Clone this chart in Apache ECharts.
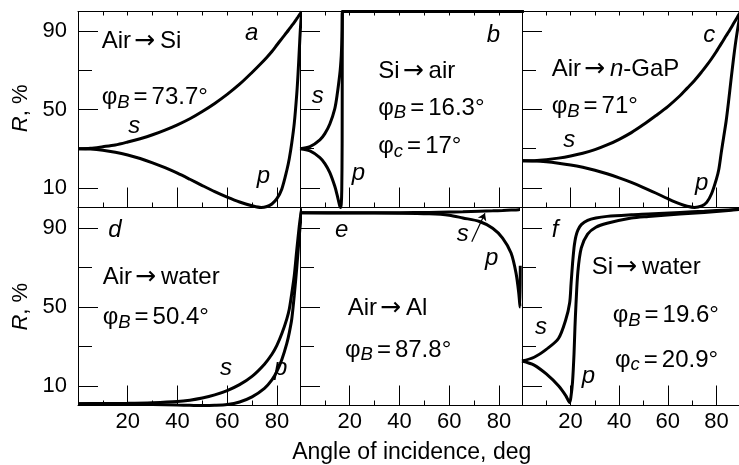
<!DOCTYPE html>
<html><head><meta charset="utf-8">
<script src="https://cdn.jsdelivr.net/npm/echarts@6/dist/echarts.min.js"></script>
<style>html,body{margin:0;padding:0;background:#fff}#c{width:739px;height:465px}</style>
</head><body><div id="c"></div>
<script>
// ---------------- data (R, % versus angle of incidence, deg) ----------------
const anglesA = [0,5,10,15,20,25,30,35,40,45,50,55,60,65,70,73.7,76,78,80,82,84,85,86,87,88,88.5,89,89.5,90];
const sA = [30,30.2,31,31.9,33.4,35.1,37.1,39.5,42.2,45.3,49,53.1,57.7,62.9,68.9,73.6,76.7,79.6,82.9,86.2,89.4,91.1,92.8,94.5,96.3,97.2,98.2,99.1,100];
const pA = [30,29.8,29.2,28.2,26.8,25,22.8,20.3,17.5,14.4,11.2,8.1,5.3,2.8,0.9,0,0.5,1.8,4.5,9.5,19,25,33,43,58,68,80,92,100];

const anglesB = [0,4,8,10,12,14,15,16,16.3,16.6,16.8,16.95,17.0,17.05,20,40,60,80,90];
const sB = [30,31,34.5,37.7,42.6,50.5,58,68,72,77.5,83.5,91.1,98.4,100,100,100,100,100,100];
const pB = [30,28.9,25.5,22.4,17.8,10.8,6,0.7,0,1.9,8.9,32.5,82.7,100,100,100,100,100,100];

const anglesC = [0,5,10,15,20,25,30,35,40,45,50,55,60,65,68,71,74,76,78,80,81,82,83,84,85,86,87,88,89,90];
const sC = [23.8,23.9,24.4,25.2,26.3,27.7,29.5,31.9,34.8,38.2,42.3,46.8,51.5,57,60.9,64.8,69.3,72.5,75.9,79.6,81.6,83.6,85.6,87.6,89.5,91.6,93.7,95.8,97.9,100];
const pC = [23.8,23.7,23.3,22.6,21.7,20.5,19,17.2,15.1,12.8,10.2,7.4,4.5,1.8,0.6,0,0.8,2.6,7,14.5,19.5,28,36,44,54,65,75.5,85,93,100];

const anglesD = [0,10,20,30,40,45,50,55,60,65,70,75,78,80,82,84,85,86,87,88,89,89.5,90];
const sD = [0.9,1,1.1,1.4,2,2.7,3.8,5.4,7.6,10.6,14.8,21,26,30.5,36.5,44,49,57,66,79,91,96,100];
const pD = [0.9,0.85,0.7,0.45,0.2,0.1,0,0.1,0.5,1.8,4.4,8.7,13,17.3,23.3,31.5,37,44,56,70,86,93,100];

const anglesE = [0,20,40,52,60,65.5,72.2,77.5,81.5,84.9,86.9,88,88.5,88.6];
const sE = [97.8,97.8,97.9,98,98.2,98.3,98.6,98.8,99,99.2,99.3,99.4,99.5,99.5];
const pE = [97.8,97.7,97.6,97.3,96.6,95.2,93.4,90,85,77.4,67.2,57,50,71];

const anglesF = [0,5,10,15,18,19.6,20.2,20.8,21.4,21.8,22.2,23,24.4,27,30.4,35,45,52,65,75,85,89.3];
const sF = [22.6,24.5,28.5,34,43.5,52,62,72,80,83.5,86,89,91.8,94,95.2,96,96.8,97.2,98,98.6,99.3,99.6];
const pF = [22.6,20.5,16,10,5,1.5,5,12,26,40,51,68,80,87,90.5,92.5,95.2,96,97.2,98,99,99.5];

const xTickValues = [20,40,60,80];
const xMinorTickValues = [10,30,50,70];
const xTopTickValues = [10,20,30,40,50,60,70,80];
const yTickValues = [10,50,90];
const yMinorTickValues = [30,70];
const xAxisTitle = 'Angle of incidence, deg';

// ---------------- layout ----------------
const FONT = '"Liberation Sans", Arial, Helvetica, sans-serif';
const ARROWFONT = '"DejaVu Sans", sans-serif';
const FS = 24;      // annotation text
const TICKFS = 22;  // tick labels
const TITLEFS = 23; // axis titles
const SUB = 18.5;
const XMAX = 89.3;
const colLeft = [78, 300, 522];
const colWidth = 222;
const rowBox = [{top: 11.5, height: 196}, {top: 208.5, height: 197}];

const panels = [
  {angles: anglesA, s: sA, p: pA},
  {angles: anglesB, s: sB, p: pB},
  {angles: anglesC, s: sC, p: pC},
  {angles: anglesD, s: sD, p: pD},
  {angles: anglesE, s: sE, p: pE},
  {angles: anglesF, s: sF, p: pF}
];

const zip = (xs, ys) => xs.map((x, i) => [x, ys[i]]);
const lineCol = '#000';

const grid = [], xAxis = [], yAxis = [], series = [];
panels.forEach((pn, i) => {
  const row = Math.floor(i / 3), col = i % 3;
  grid.push({left: colLeft[col], top: rowBox[row].top, width: colWidth, height: rowBox[row].height, containLabel: false});
  const xi = xAxis.length;
  xAxis.push({
    type: 'value', gridIndex: i, min: 0, max: XMAX, position: 'bottom',
    axisLine: {show: true, onZero: false, lineStyle: {color: lineCol, width: 1}},
    axisTick: {show: true, inside: true, length: 20, customValues: xTickValues, lineStyle: {color: lineCol, width: 1}},
    axisLabel: {show: row === 1, customValues: xTickValues, margin: 5, color: '#000', fontSize: TICKFS, fontFamily: FONT},
    splitLine: {show: false}
  });
  xAxis.push({
    type: 'value', gridIndex: i, min: 0, max: XMAX, position: 'bottom',
    axisLine: {show: false},
    axisTick: {show: true, inside: true, length: 5, customValues: xMinorTickValues, lineStyle: {color: lineCol, width: 1}},
    axisLabel: {show: false}, splitLine: {show: false}
  });
  if (row === 0) {
    xAxis.push({
      type: 'value', gridIndex: i, min: 0, max: XMAX, position: 'top',
      axisLine: {show: true, onZero: false, lineStyle: {color: lineCol, width: 1}},
      axisTick: {show: true, inside: true, length: 4, customValues: xTopTickValues, lineStyle: {color: lineCol, width: 1}},
      axisLabel: {show: false}, splitLine: {show: false}
    });
  }
  const yi = yAxis.length;
  yAxis.push({
    type: 'value', gridIndex: i, min: 0, max: 100, position: 'left',
    axisLine: {show: true, onZero: false, lineStyle: {color: lineCol, width: 1}},
    axisTick: {show: true, inside: true, length: 20, customValues: yTickValues, lineStyle: {color: lineCol, width: 1}},
    axisLabel: {show: col === 0, customValues: yTickValues, margin: 11, color: '#000', fontSize: TICKFS, fontFamily: FONT},
    splitLine: {show: false}
  });
  yAxis.push({
    type: 'value', gridIndex: i, min: 0, max: 100, position: 'left',
    axisLine: {show: false},
    axisTick: {show: true, inside: true, length: 14, customValues: yMinorTickValues, lineStyle: {color: lineCol, width: 1}},
    axisLabel: {show: false}, splitLine: {show: false}
  });
  ['s', 'p'].forEach(k => {
    const ser = {
      type: 'line', name: k + i, xAxisIndex: xi, yAxisIndex: yi,
      data: zip(pn.angles, pn[k]), showSymbol: false, symbol: 'none',
      smooth: 0.3, lineStyle: {color: lineCol, width: 3}, silent: true, z: 3
    };
    if (i === 4 && k === 's') {
      ser.markLine = {
        silent: true, symbol: ['none', 'arrow'], symbolSize: 7, animation: false,
        label: {show: false}, lineStyle: {color: '#000', width: 1.2, type: 'solid'},
        data: [[{coord: [69.1, 83.1]}, {coord: [74.4, 97.6]}]]
      };
    }
    series.push(ser);
  });
});

// ---------------- text annotations ----------------
const mctx = document.createElement('canvas').getContext('2d');
const fstr = (size, it, fam) => (it ? 'italic ' : '') + size + 'px ' + (fam || FONT);
const tw = (t, size, it, fam) => { mctx.font = fstr(size, it, fam); return mctx.measureText(t).width; };
const K = 0.35;
// parts: {t, size, it, dy, dx, fam}
function runs(x, base, parts) {
  const out = []; let cx = x;
  parts.forEach(pt => {
    const size = pt.size || FS;
    cx += pt.dx || 0;
    out.push({type: 'text', x: cx, y: base + (pt.dy || 0) - K * size, silent: true,
      style: {text: pt.t, fontSize: size, fontFamily: pt.fam || FONT, fontStyle: pt.it ? 'italic' : 'normal',
        fill: '#000', verticalAlign: 'middle', align: 'left'}});
    cx += tw(pt.t, size, pt.it, pt.fam);
  });
  return out;
}
function phi(x, base, sub, rest) {
  return runs(x, base, [{t: 'φ'}, {t: sub, size: SUB, it: true, dy: 3}, {t: '=', dx: 4}, {t: rest, dx: 4}]);
}
function arrowText(x, base, left, rightParts) {
  return runs(x, base, [{t: left}, {t: '→', fam: ARROWFONT, size: 25, dx: 3, dy: 0.5},
    ...rightParts.map((r, j) => j === 0 ? Object.assign({dx: 5}, r) : r)]);
}
const I = (x, base, t) => runs(x, base, [{t, it: true}]);

let g = [];
// panel a
g = g.concat(arrowText(101.7, 50, 'Air', [{t: 'Si'}]), I(245, 42, 'a'), phi(101.7, 106, 'B', '73.7°'), I(128.3, 135, 's'), I(256.7, 184.4, 'p'));
// panel b
g = g.concat(I(486.7, 43.3, 'b'), arrowText(378.3, 80, 'Si', [{t: 'air'}]), phi(378.3, 116.7, 'B', '16.3°'), phi(378.3, 155, 'c', '17°'), I(311.7, 105, 's'), I(351.7, 181.4, 'p'));
// panel c
g = g.concat(I(703.3, 43.3, 'c'), arrowText(551.7, 77.3, 'Air', [{t: 'n', it: true}, {t: '-GaP'}]), phi(551.7, 115, 'B', '71°'), I(563.3, 148.3, 's'), I(695, 191.4, 'p'));
// panel d
g = g.concat(I(108.3, 238.3, 'd'), arrowText(102.7, 286, 'Air', [{t: 'water'}]), phi(102.7, 326, 'B', '50.4°'), I(220, 376.7, 's'), I(274, 376.4, 'p'));
// panel e
g = g.concat(I(335, 238.3, 'e'), arrowText(347.7, 316.7, 'Air', [{t: 'Al'}]), phi(345, 358.3, 'B', '87.8°'), I(456.7, 242.7, 's'), I(485, 266.4, 'p'));
// panel f
g = g.concat(I(551.7, 238.3, 'f'), arrowText(591.7, 276, 'Si', [{t: 'water'}]), phi(612.7, 324, 'B', '19.6°'), phi(615, 368.3, 'c', '20.9°'), I(535, 336, 's'), I(581.7, 384.7, 'p'));

// y-axis names (rotated)
function yName(cy, baseX) {
  const parts = [{t: 'R', it: true, size: 22}, {t: ', %', size: 22}];
  const w = parts.reduce((a, pt) => a + tw(pt.t, pt.size, pt.it), 0);
  return {type: 'group', x: baseX, y: cy, rotation: Math.PI / 2, silent: true, children: runs(-w / 2, 0, parts)};
}
g.push(yName(108.3, 28.3), yName(306.7, 28.3));
// x-axis title
g.push({type: 'text', x: 411.7, y: 460.7 - K * TITLEFS, silent: true,
  style: {text: xAxisTitle, fontSize: TITLEFS, fontFamily: FONT, fill: '#000', align: 'center', verticalAlign: 'middle'}});

const chart = echarts.init(document.getElementById('c'), null, {renderer: 'canvas', width: 739, height: 465});
chart.setOption({
  animation: false,
  backgroundColor: '#fff',
  grid, xAxis, yAxis, series,
  graphic: {elements: g}
});
</script>
</body></html>
